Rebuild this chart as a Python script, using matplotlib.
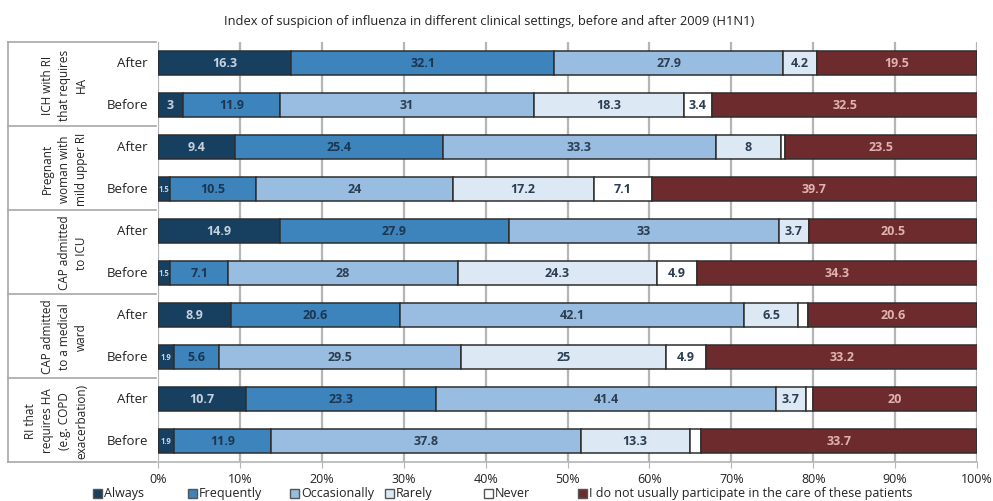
import matplotlib
matplotlib.use('Agg')
import matplotlib.pyplot as plt
import numpy as np
from matplotlib.patches import Rectangle
from matplotlib.transforms import blended_transform_factory

plt.rcParams['font.family'] = ['Open Sans', 'DejaVu Sans']

groups = ["ICH with RI\nthat requires\nHA",
          "Pregnant\nwoman with\nmild upper RI",
          "CAP admitted\nto ICU",
          "CAP admitted\nto a medical\nward",
          "RI that\nrequires HA\n(e.g. COPD\nexacerbation)"]
periods = ["After", "Before"]
categories = ["Always", "Frequently", "Occasionally", "Rarely", "Never",
              "I do not usually participate in the care of these patients"]

always = [16.3, 3, 9.4, 1.5, 14.9, 1.5, 8.9, 1.9, 10.7, 1.9]
frequently = [32.1, 11.9, 25.4, 10.5, 27.9, 7.1, 20.6, 5.6, 23.3, 11.9]
occasionally = [27.9, 31, 33.3, 24, 33, 28, 42.1, 29.5, 41.4, 37.8]
rarely = [4.2, 18.3, 8, 17.2, 3.7, 24.3, 6.5, 25, 3.7, 13.3]
never = [0, 3.4, 0.4, 7.1, 0, 4.9, 1.3, 4.9, 0.9, 1.4]
not_participate = [19.5, 32.5, 23.5, 39.7, 20.5, 34.3, 20.6, 33.2, 20, 33.7]

xticks = [0, 10, 20, 30, 40, 50, 60, 70, 80, 90, 100]
xticklabels = ["0%", "10%", "20%", "30%", "40%", "50%", "60%", "70%", "80%", "90%", "100%"]

series = [always, frequently, occasionally, rarely, never, not_participate]
colors = ["#173f5f", "#3d84bd", "#98bde0", "#dce9f5", "#ffffff", "#6e2b2e"]
text_colors = ["#c5d2df", "#1c3550", "#2b3d52", "#2b3d52", "#2b3d52", "#e0b3b3"]

fig = plt.figure(figsize=(9.93, 5.02), dpi=100)
W, H = 993, 502
left_px, right_px, top_px, bot_px = 158, 977, 43, 463
ax = fig.add_axes([left_px / W, 1 - bot_px / H, (right_px - left_px) / W, (bot_px - top_px) / H])

n = len(always)
y = np.arange(n)
ax.set_xlim(0, 100)
ax.set_ylim(n - 0.5, -0.5)

for xv in xticks:
    ax.axvline(xv, color="#b5b5b5", lw=1.6, zorder=0)

cum = np.zeros(n)
for vals, c, tc in zip(series, colors, text_colors):
    vals = np.array(vals, dtype=float)
    ax.barh(y, vals, left=cum, height=0.57, color=c, edgecolor="#2e2e2e", linewidth=1.1, zorder=2)
    for i, v in enumerate(vals):
        if v >= 1.5:
            fs = 9 if v >= 3 else 5.5
            ax.text(cum[i] + v / 2, y[i], f"{v:g}", ha="center", va="center",
                    fontsize=fs, color=tc, fontweight="bold", zorder=3)
    cum += vals

for s in ["top", "right", "left"]:
    ax.spines[s].set_visible(False)
ax.spines["bottom"].set_color("#b5b5b5")
ax.spines["bottom"].set_linewidth(1.2)
ax.set_xticks(xticks)
ax.set_xticklabels(xticklabels, fontsize=9, color="#222222")
ax.tick_params(axis="x", length=4, color="#b5b5b5", pad=3)
ax.set_yticks([])

# Left category table
trans = blended_transform_factory(ax.transAxes, ax.transData)
def fx(px):
    return (px - left_px) / (right_px - left_px)
for g in range(len(groups) + 1):
    yb = g * 2 - 0.5
    ax.plot([fx(8), fx(156)], [yb, yb], transform=trans, color="#a8a8a8", lw=1.2, clip_on=False)
ax.plot([fx(8), fx(8)], [-0.5, n - 0.5], transform=trans, color="#a8a8a8", lw=1.2, clip_on=False)
for g, name in enumerate(groups):
    ax.text(fx(88), g * 2 + 0.5, name, transform=trans, rotation=90, ha="right", va="center",
            multialignment="center", fontsize=8.5, color="#222222", linespacing=1.4)
    for k, p in enumerate(periods):
        ax.text(fx(148), g * 2 + k, p, transform=trans, ha="right", va="center",
                fontsize=9.5, color="#222222")

fig.text(0.493, 1 - 21 / H, "Index of suspicion of influenza in different clinical settings, before and after 2009 (H1N1)",
         ha="center", va="center", fontsize=9.3, color="#222222")

# Legend (Excel-style equal spacing)
leg_x = [93, 188, 290, 385, 484, 578]
leg_y = 494
for lx, c, lab in zip(leg_x, colors, categories):
    fig.patches.append(Rectangle((lx / W, 1 - (leg_y + 5) / H), 9 / W, 9 / H,
                                 transform=fig.transFigure, facecolor=c, edgecolor="#555555", lw=1.0))
    fig.text((lx + 11) / W, 1 - leg_y / H, lab, ha="left", va="center", fontsize=9,
             color="#222222")

fig.savefig("out.png", dpi=100)
